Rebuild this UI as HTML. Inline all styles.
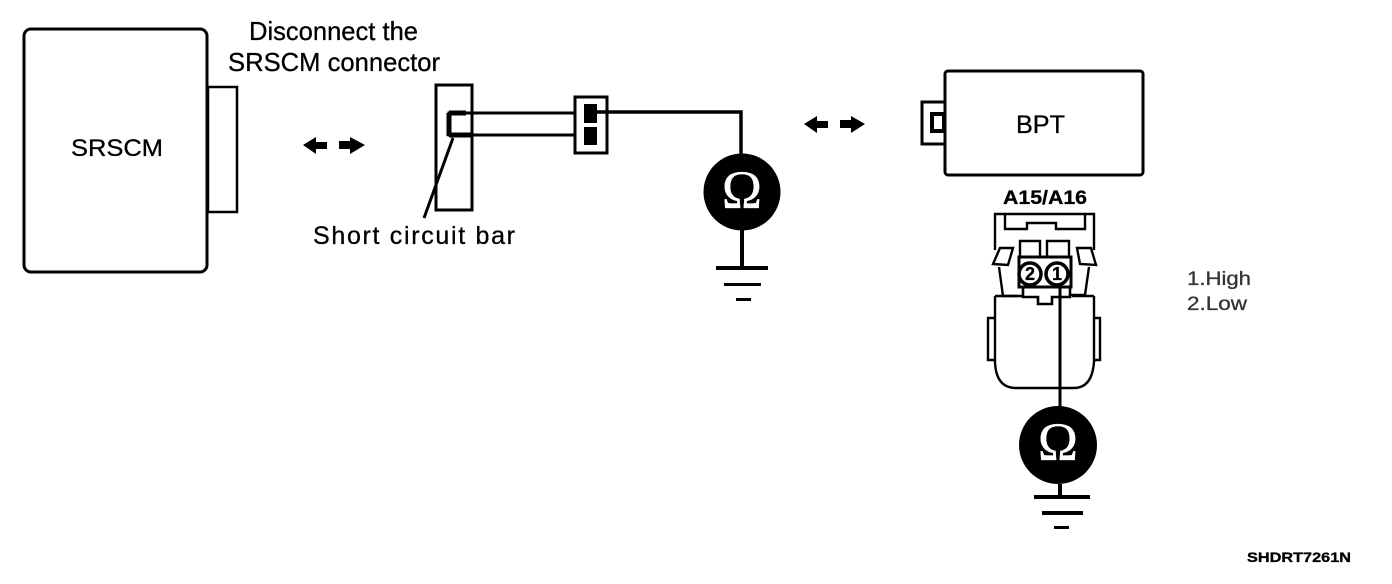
<!DOCTYPE html>
<html><head><meta charset="utf-8"><style>
html,body{margin:0;padding:0;background:#fff}
svg{display:block}
text{font-family:"Liberation Sans",sans-serif;fill:#000;stroke:#000;stroke-width:.3px}
</style></head><body>
<svg width="1392" height="584" viewBox="0 0 1392 584" xmlns="http://www.w3.org/2000/svg">
<g fill="none" stroke="#000" stroke-width="3">
<!-- SRSCM -->
<rect x="208" y="87" width="29" height="125" stroke-width="2.5"/>
<rect x="24" y="29" width="183" height="243" rx="7" fill="#fff"/>
<!-- bar -->
<rect x="436" y="85" width="36" height="125" stroke-width="3"/>
<path d="M575 113H449V135H575" stroke-width="3"/>
<path d="M449 113V136M449 113H466M449 135H472" stroke-width="5"/>
<path d="M453 138L424 218" stroke-width="3"/>
<rect x="575" y="97" width="32" height="56" stroke-width="3"/>
<path d="M597 112H741V156" stroke-width="3.5"/>
<!-- BPT -->
<rect x="922" y="102" width="24" height="42" stroke-width="3"/>
<rect x="932" y="114" width="12" height="17" stroke-width="4"/>
<rect x="945" y="71" width="198" height="104" rx="3" fill="#fff"/>
<!-- Connector -->
<g stroke-width="2.4">
<path d="M995 250V214H1094V250"/>
<path d="M1005 214V229H1027V223H1056V229H1085V214"/>
<path d="M995 296V362Q996 388 1016 388H1074Q1092 388 1094 362V296"/>
<path d="M995 318H988V360H995M1094 318H1100V360H1094"/>
<path d="M1020 256V241H1040V256M1047 256V241H1069V256"/>
<path d="M1000 248H1013L1008 265L993 264Z"/>
<path d="M1077 248H1091L1096 265L1080 264Z"/>
<path d="M999 267L1003 296H1022M1089 267L1085 295H1070"/>
<path d="M995 296H1018M1072 296H1094"/>
</g>
<path d="M1019 257H1071V287H1019Z" stroke-width="3"/>
<path d="M1023 288V297H1038V304H1052V297H1070V288" stroke-width="2.6"/>
<circle cx="1030" cy="274" r="11" stroke-width="3.5" fill="#fff"/>
<circle cx="1057" cy="274" r="11" stroke-width="3.5" fill="#fff"/>
<path d="M1060 286V408" stroke-width="3"/>
</g>
<!-- pins -->
<rect x="584" y="104" width="13" height="19" fill="#000"/>
<rect x="584" y="127" width="13" height="18" fill="#000"/>
<!-- Arrows -->
<g fill="#000">
<path d="M303 145L316 137V142H327V149H316V154Z"/>
<path d="M365 145L350 137V141H339V149H350V154Z"/>
<path d="M804 124L817 116V121H828V128H817V133Z"/>
<path d="M865 124L851 116V120H840V128H851V133Z"/>
</g>
<!-- Ohm 1 -->
<circle cx="742" cy="192" r="38.5" fill="#000"/>
<text x="742" y="208" font-size="54" text-anchor="middle" style="font-family:'Liberation Serif',serif;fill:#fff;stroke:#fff">Ω</text>
<path d="M742 230V268" stroke="#000" stroke-width="4"/>
<rect x="716" y="266" width="52" height="4" fill="#000"/>
<rect x="724" y="283" width="37" height="3" fill="#000"/>
<rect x="736" y="298" width="15" height="3" fill="#000"/>
<!-- Ohm 2 -->
<circle cx="1058" cy="445" r="39" fill="#000"/>
<text x="1058" y="460" font-size="54" text-anchor="middle" style="font-family:'Liberation Serif',serif;fill:#fff;stroke:#fff">Ω</text>
<path d="M1060 484V497" stroke="#000" stroke-width="4"/>
<rect x="1034" y="495" width="56" height="4" fill="#000"/>
<rect x="1042" y="511" width="41" height="4" fill="#000"/>
<rect x="1054" y="526" width="15" height="3" fill="#000"/>
<!-- Text -->
<text x="71" y="156" font-size="24" textLength="92" lengthAdjust="spacingAndGlyphs">SRSCM</text>
<text x="249" y="40" font-size="26" textLength="169" lengthAdjust="spacingAndGlyphs">Disconnect the</text>
<text x="228" y="71" font-size="26" textLength="212" lengthAdjust="spacingAndGlyphs">SRSCM connector</text>
<text x="313" y="244" font-size="25" textLength="202" lengthAdjust="spacing">Short circuit bar</text>
<text x="1016" y="133" font-size="25" textLength="49" lengthAdjust="spacingAndGlyphs">BPT</text>
<text x="1003" y="204" font-size="19" font-weight="bold" textLength="84" lengthAdjust="spacingAndGlyphs">A15/A16</text>
<text x="1030" y="280" font-size="18" font-weight="bold" text-anchor="middle">2</text>
<text x="1057" y="280" font-size="18" font-weight="bold" text-anchor="middle">1</text>
<text x="1187" y="285" font-size="19" textLength="64" lengthAdjust="spacingAndGlyphs" style="fill:#333;stroke:#333">1.High</text>
<text x="1187" y="310" font-size="19" textLength="60" lengthAdjust="spacingAndGlyphs" style="fill:#333;stroke:#333">2.Low</text>
<text x="1247" y="562" font-size="14" font-weight="bold" textLength="104" lengthAdjust="spacingAndGlyphs">SHDRT7261N</text>
</svg>
</body></html>
